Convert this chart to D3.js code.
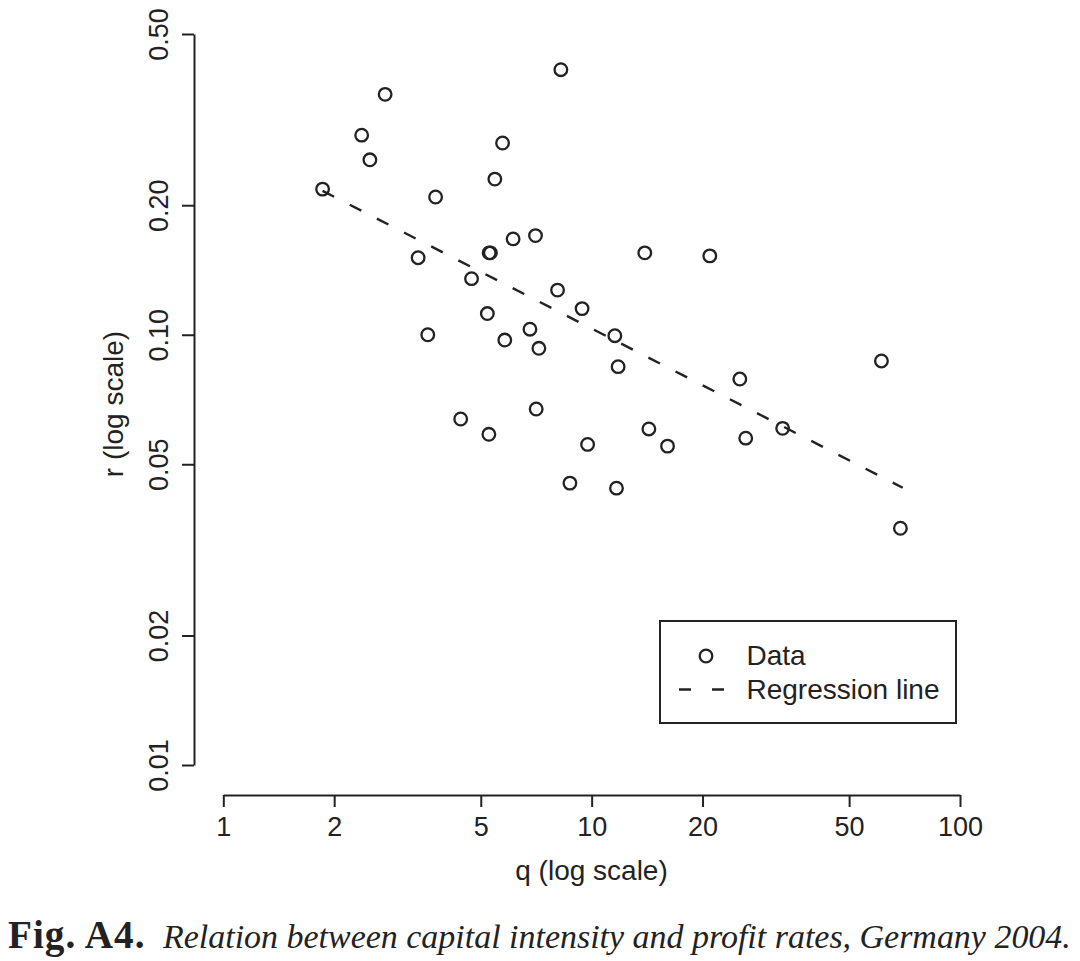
<!DOCTYPE html>
<html>
<head>
<meta charset="utf-8">
<script src="https://cdn.jsdelivr.net/npm/d3@7"></script>
<style>
  body { margin: 0; background: #fff; }
  svg { display: block; }
  text { fill: #222; }
</style>
</head>
<body>
<svg id="chart" width="1080" height="961"></svg>
<script>
// capital intensity q and profit rate r, one entry per sector
const qValues = [2.75, 2.375, 2.50, 1.86, 3.77, 3.38, 8.25, 5.73, 5.46, 5.27, 5.31,
  6.12, 7.04, 13.94, 20.93, 4.72, 8.08, 9.42, 5.21, 6.80, 11.56, 3.59, 5.81, 7.19,
  11.8, 4.41, 7.07, 5.26, 14.30, 16.07, 9.75, 8.73, 11.68, 25.25, 61.2, 33.0, 26.2, 68.9];
const rValues = [0.362, 0.291, 0.255, 0.218, 0.209, 0.151, 0.413, 0.279, 0.230, 0.155, 0.155,
  0.167, 0.170, 0.155, 0.1525, 0.135, 0.127, 0.115, 0.112, 0.103, 0.0995, 0.100, 0.0972, 0.093,
  0.0843, 0.0637, 0.0672, 0.0587, 0.0604, 0.0551, 0.0556, 0.0452, 0.0440, 0.0789, 0.0869, 0.0606, 0.0575, 0.0355];

// regression line end points
const regQ = [1.86, 69.9];
const regR = [0.216, 0.0441];

const xTicks = [1, 2, 5, 10, 20, 50, 100];
const yTicks = [0.01, 0.02, 0.05, 0.10, 0.20, 0.50];

const svg = d3.select('#chart');
const font = "'Liberation Sans', Arial, Helvetica, sans-serif";
const serif = "'Liberation Serif', 'Times New Roman', serif";
const ink = "#222";

const x = d3.scaleLog().domain([1, 100]).range([223.3, 960]);
const y = d3.scaleLog().domain([0.01, 0.5]).range([765, 34]);

// y axis
const yAxis = svg.append("g")
    .attr("transform", "translate(194,0)")
    .call(d3.axisLeft(y).tickValues(yTicks).tickFormat(d3.format(".2f")).tickSize(12).tickSizeOuter(0));
yAxis.selectAll("text")
    .attr("transform", "rotate(-90)")
    .attr("x", 0)
    .attr("y", -26)
    .attr("dy", 0)
    .attr("text-anchor", "middle");

// x axis
const xAxis = svg.append("g")
    .attr("transform", "translate(0,795)")
    .call(d3.axisBottom(x).tickValues(xTicks).tickFormat(d3.format("d")).tickSize(12).tickSizeOuter(0));
xAxis.selectAll("text")
    .attr("y", 41)
    .attr("dy", 0);

svg.selectAll(".domain, .tick line")
    .attr("stroke", ink)
    .attr("stroke-width", 2);
svg.selectAll(".tick text")
    .attr("font-family", font)
    .attr("font-size", 27)
    .attr("fill", ink);

// axis titles
svg.append("text")
    .attr("x", 591.5)
    .attr("y", 880)
    .attr("text-anchor", "middle")
    .attr("font-family", font)
    .attr("font-size", 28)
    .text("q (log scale)");

svg.append("text")
    .attr("transform", "translate(123,404) rotate(-90)")
    .attr("text-anchor", "middle")
    .attr("font-family", font)
    .attr("font-size", 28)
    .text("r (log scale)");

// regression line
svg.append("line")
    .attr("x1", x(regQ[0])).attr("y1", y(regR[0]))
    .attr("x2", x(regQ[1])).attr("y2", y(regR[1]))
    .attr("stroke", ink)
    .attr("stroke-width", 2.4)
    .attr("stroke-dasharray", "13,17.5");

// data points
svg.selectAll("circle.pt")
    .data(qValues.map((q, i) => ({ q: q, r: rValues[i] })))
    .enter().append("circle")
    .attr("class", "pt")
    .attr("cx", d => x(d.q))
    .attr("cy", d => y(d.r))
    .attr("r", 6.3)
    .attr("fill", "none")
    .attr("stroke", ink)
    .attr("stroke-width", 2.3);

// legend
const legend = svg.append("g");
legend.append("rect")
    .attr("x", 660).attr("y", 621)
    .attr("width", 296).attr("height", 102)
    .attr("fill", "none")
    .attr("stroke", ink)
    .attr("stroke-width", 2);
legend.append("circle")
    .attr("cx", 706).attr("cy", 656)
    .attr("r", 6.3)
    .attr("fill", "none")
    .attr("stroke", ink)
    .attr("stroke-width", 2.3);
legend.append("line")
    .attr("x1", 679).attr("x2", 724)
    .attr("y1", 689.5).attr("y2", 689.5)
    .attr("stroke", ink)
    .attr("stroke-width", 2.4)
    .attr("stroke-dasharray", "12,21");
legend.append("text")
    .attr("x", 746.5).attr("y", 665)
    .attr("font-family", font).attr("font-size", 28)
    .text("Data");
legend.append("text")
    .attr("x", 746.5).attr("y", 699)
    .attr("font-family", font).attr("font-size", 28)
    .text("Regression line");

// caption under the figure: bold label then italic text, each fitted to its printed width
const capLabel = svg.append("text")
    .attr("x", 8).attr("y", 948)
    .attr("font-family", serif).attr("font-weight", "bold")
    .attr("font-size", 30).attr("fill", "#1a1a1a")
    .attr("letter-spacing", 1)
    .text("Fig. A4.");
capLabel.attr("font-size", 30 * 140 / capLabel.node().getComputedTextLength());

const capText = svg.append("text")
    .attr("x", 163).attr("y", 948)
    .attr("font-family", serif).attr("font-style", "italic")
    .attr("font-size", 28).attr("fill", "#1a1a1a")
    .text("Relation between capital intensity and profit rates, Germany 2004.");
capText.attr("font-size", 28 * 908 / capText.node().getComputedTextLength());
</script>
</body>
</html>
